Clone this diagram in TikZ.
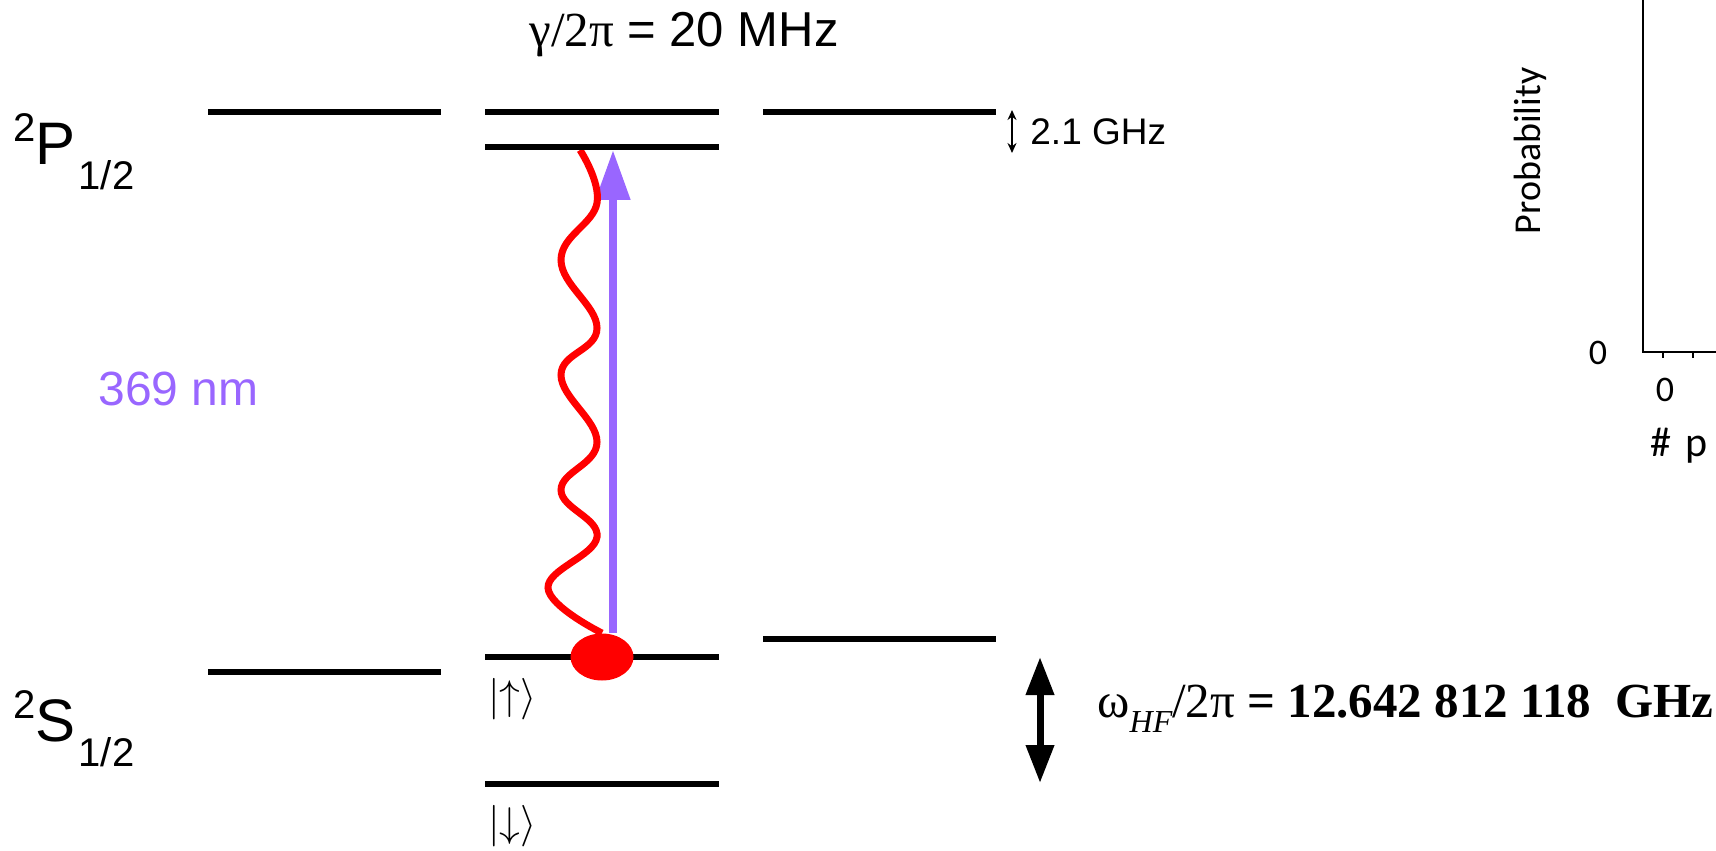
\documentclass[tikz,border=0pt]{standalone}
\usepackage{fontspec}
\setmainfont{Liberation Sans}
\newfontfamily\timesfont{Liberation Serif}
\newfontfamily\calfont{Carlito}
\usepackage{amsmath}
\usetikzlibrary{arrows.meta, positioning, shapes.geometric, backgrounds}
\definecolor{laser}{RGB}{153,102,255}
\newcommand{\levelterm}[1]{\raisebox{11.5pt}{\fontsize{20}{20}\selectfont 2}#1\hspace{1.5pt}\raisebox{-12.5pt}{\fontsize{20}{20}\selectfont 1/2}}

\begin{document}
\begin{tikzpicture}[x=0.5pt, y=-0.5pt,
    level/.style={line width=2.75pt},
    lbl/.style={anchor=base west, inner sep=0pt},
    atom/.style={ellipse, fill=red, minimum width=31.5pt, minimum height=23.5pt, inner sep=0pt},
    pump/.style={laser, line width=4pt, -{Triangle[length=25pt, width=16.5pt]}},
    photon/.style={red, line width=3.5pt},
    hfarrow/.style={line width=3.5pt, {Triangle[length=19pt, width=13.5pt]}-{Triangle[length=19pt, width=13.5pt]}},
    axis/.style={line width=1.1pt}]
  \useasboundingbox (0,0) rectangle (1716,850);

  % Energy levels
  \foreach \xa/\xb/\y/\nm in {208/441/112/pL, 485/719/112/pMa, 485/719/147/pMb, 763/996/112/pR,
                              208/441/672/sL, 485/719/657/up, 485/719/784/down, 763/996/639/sR} {
    \draw[level] (\xa,\y) coordinate (\nm-w) -- (\xb,\y) coordinate (\nm-e);
  }

  % Term symbols
  \node[lbl, font=\fontsize{30}{30}\selectfont] (pterm) at (13,165) {\levelterm{P}};
  \node[lbl, font=\fontsize{30}{30}\selectfont] (sterm) at (13,741) {\levelterm{S}};

  % Linewidth and P splitting
  \node[lbl, font=\fontsize{24.5}{25}\selectfont] (gamma) at (529,47) {{\timesfont γ/2π} = 20 MHz};
  \coordinate (psTop) at (1012,110);
  \coordinate (psBot) at (1012,153);
  \draw[line width=1pt, {Stealth[length=5pt, width=4.5pt]}-{Stealth[length=5pt, width=4.5pt]}] (psTop) -- (psBot);
  \node[lbl, font=\fontsize{18.5}{20}\selectfont] (psplit) at (1030,145) {2.1 GHz};

  % Ion, laser and emitted photon
  \node[atom] (ion) at (602,657) {};
  \coordinate (tipP) at (613,150);
  \coordinate (emit) at (580,150);
  \begin{scope}[on background layer]
    \draw[pump] (ion.north -| tipP) -- (tipP);
    \draw[photon] plot[smooth, tension=0.7] coordinates {(ion.north) (548,588) (597,537) (561,490) (597,442) (561,375) (597,328) (561,260) (597,203) (emit)};
  \end{scope}
  \node[lbl, text=laser, font=\fontsize{24}{24}\selectfont] (wavelength) at (98,405) {369 nm};

  % Qubit states
  \node[lbl, font=\fontsize{21.5}{22}\selectfont] (ketup) at (488,709) {$|{\uparrow}\rangle$};
  \node[lbl, font=\fontsize{21.5}{22}\selectfont] (ketdown) at (488,836) {$|{\downarrow}\rangle$};

  % Hyperfine splitting
  \coordinate (hfTop) at (1040,657);
  \coordinate (hfBot) at (1040,783);
  \draw[hfarrow] (hfTop) -- (hfBot);
  \node[lbl, font=\timesfont\fontsize{24.5}{25}\selectfont] (hfreq) at (1097,717)
    {ω\raisebox{-7.5pt}{\fontsize{16}{16}\selectfont\itshape HF}/2π \textbf{= 12.642 812 118\ \ GHz}};

  % Histogram axes (cut off)
  \coordinate (origin) at (1643,352);
  \draw[axis] (1643,0) -- (origin) -- (1716,352);
  \foreach \x in {1663,1693} \draw[axis] (\x,352) -- (\x,358);
  \node[font=\calfont\fontsize{18}{18}\selectfont, inner sep=0pt] (yzero) at (1598,353) {0};
  \node[font=\calfont\fontsize{18}{18}\selectfont, inner sep=0pt] (xzero) at (1665,390) {0};
  \node[lbl, font=\calfont\fontsize{21}{21}\selectfont] (xlabel) at (1650,456) {\#\hspace{7pt}p};
  \node[rotate=90, anchor=base, inner sep=0pt, font=\calfont\fontsize{19}{20}\selectfont] (ylabel) at (1540,151) {Probability};
\end{tikzpicture}
\end{document}
